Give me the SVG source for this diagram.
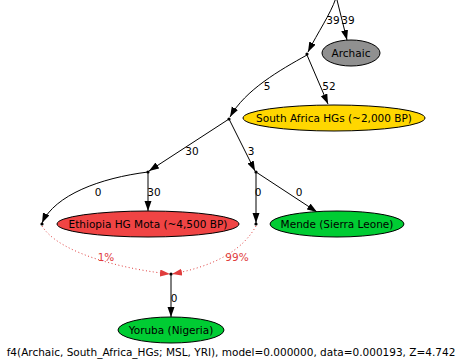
<svg xmlns="http://www.w3.org/2000/svg" width="456" height="362" viewBox="0 0 456 362">
<style>
text{font-family:"DejaVu Sans",sans-serif;font-size:10.5px;fill:#000}
.lbl{text-anchor:middle}
.red{fill:#e03c3c}
.e{fill:none;stroke:#000;stroke-width:1}
.d{fill:none;stroke:#e03c3c;stroke-width:1;stroke-dasharray:1 2.5}
.n{stroke:#000;stroke-width:1}
.pt{fill:#000}
</style>
<defs>
<marker id="a" markerUnits="userSpaceOnUse" markerWidth="10" markerHeight="8" refX="10" refY="3.5" orient="auto"><path d="M0,0L10,3.5L0,7z" fill="#000"/></marker>
<marker id="r" markerUnits="userSpaceOnUse" markerWidth="10" markerHeight="8" refX="10" refY="3.5" orient="auto"><path d="M0,0L10,3.5L0,7z" fill="#e03c3c"/></marker>
</defs>
<g id="edges">
<path class="e" d="M336,-2 C330,15 318,32 308,52" marker-end="url(#a)"/>
<path class="e" d="M337,0 L347,40" marker-end="url(#a)"/>
<path class="e" d="M307,55 C280,70 245,90 230,117" marker-end="url(#a)"/>
<path class="e" d="M307,55 L328,104" marker-end="url(#a)"/>
<path class="e" d="M229,119 L149,171" marker-end="url(#a)"/>
<path class="e" d="M229,119 L255,171" marker-end="url(#a)"/>
<path class="e" d="M148,172 C100,178 55,195 42,223" marker-end="url(#a)"/>
<path class="e" d="M148,172 L148,211" marker-end="url(#a)"/>
<path class="e" d="M256,172 L256,223" marker-end="url(#a)"/>
<path class="e" d="M256,172 L317,212" marker-end="url(#a)"/>
<path class="d" d="M42,226 C60,255 130,270 170,274" marker-end="url(#r)"/>
<path class="d" d="M256,226 C240,255 205,268 172,274" marker-end="url(#r)"/>
<path class="e" d="M171,275 L171,317" marker-end="url(#a)"/>
<text class="lbl" x="333" y="24">39</text>
<text class="lbl" x="348" y="24">39</text>
<text class="lbl" x="267" y="90">5</text>
<text class="lbl" x="329" y="90">52</text>
<text class="lbl" x="192" y="155">30</text>
<text class="lbl" x="251" y="155">3</text>
<text class="lbl" x="98" y="196">0</text>
<text class="lbl" x="154" y="196">30</text>
<text class="lbl" x="258" y="196">0</text>
<text class="lbl" x="299" y="196">0</text>
<text class="lbl red" x="106" y="261">1%</text>
<text class="lbl red" x="237" y="261">99%</text>
<text class="lbl" x="174" y="302">0</text>
</g>
<g id="p1"><circle class="pt" cx="307" cy="54" r="1.6"/></g>
<g id="p2"><circle class="pt" cx="229" cy="119" r="1.6"/></g>
<g id="p3"><circle class="pt" cx="148" cy="172" r="1.6"/></g>
<g id="p4"><circle class="pt" cx="256" cy="172" r="1.6"/></g>
<g id="p5"><circle class="pt" cx="42" cy="224" r="1.6"/></g>
<g id="p6"><circle class="pt" cx="256" cy="224" r="1.6"/></g>
<g id="p7"><circle class="pt" cx="171" cy="274" r="1.6"/></g>
<g id="archaic"><ellipse class="n" cx="351" cy="53" rx="29" ry="13" fill="#909090"/><text class="lbl" x="351" y="57">Archaic</text></g>
<g id="sa"><ellipse class="n" cx="334" cy="118" rx="91" ry="13" fill="#ffd700"/><text class="lbl" x="334" y="122">South Africa HGs (~2,000 BP)</text></g>
<g id="eth"><ellipse class="n" cx="148" cy="224" rx="91" ry="13" fill="#f04444"/><text class="lbl" x="148" y="228">Ethiopia HG Mota (~4,500 BP)</text></g>
<g id="mende"><ellipse class="n" cx="337" cy="224" rx="67" ry="13" fill="#00cc33"/><text class="lbl" x="337" y="228">Mende (Sierra Leone)</text></g>
<g id="yoruba"><ellipse class="n" cx="171" cy="330" rx="53" ry="13" fill="#00cc33"/><text class="lbl" x="171" y="334">Yoruba (Nigeria)</text></g>
<text class="lbl" x="231" y="356">f4(Archaic, South_Africa_HGs; MSL, YRI), model=0.000000, data=0.000193, Z=4.742</text>
</svg>
